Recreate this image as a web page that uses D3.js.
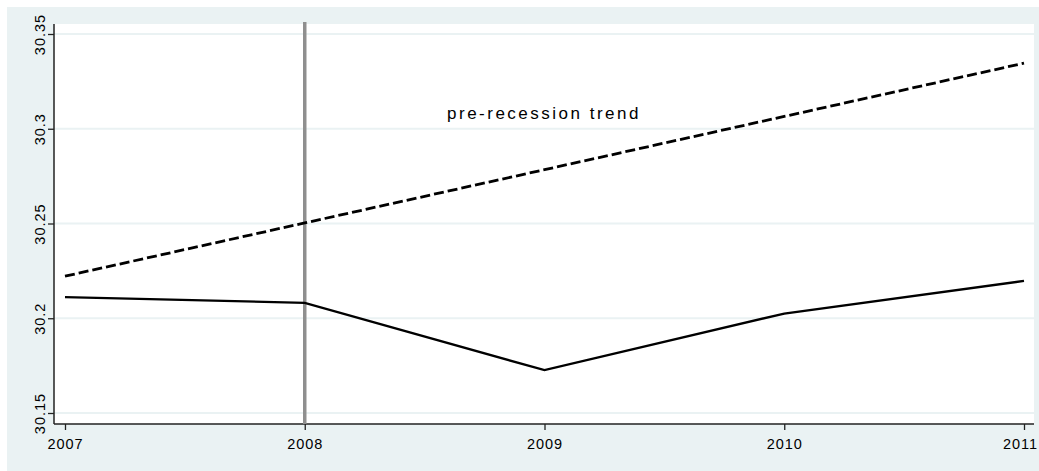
<!DOCTYPE html>
<html>
<head>
<meta charset="utf-8">
<script src="https://cdn.jsdelivr.net/npm/d3@7"></script>
<style>
  body { margin: 0; background: #fff; }
  text { font-family: "Liberation Sans", Arial, sans-serif; fill: #000; }
</style>
</head>
<body>
<div id="chart"></div>
<script>

// years on the x axis
var years = [2007, 2008, 2009, 2010, 2011];
// actual series (solid)
var actual = [30.2112, 30.2081, 30.1726, 30.2025, 30.2197];
// pre-recession trend (dashed)
var trend = [30.2222, 30.2503, 30.2784, 30.3065, 30.3346];
var yTicks = [30.15, 30.2, 30.25, 30.3, 30.35];
var recessionYear = 2008;
var trendLabel = "pre-recession trend";

var W = 1039, H = 471;
var plot = {left: 54, right: 1034, top: 24, bottom: 424};

var svg = d3.select("#chart")
  .append("svg")
    .attr("width", W)
    .attr("height", H);

// graph region
svg.append("rect")
  .attr("x", 7).attr("y", 7)
  .attr("width", W - 7).attr("height", H - 7)
  .attr("fill", "#eaf2f3");

// plot region
svg.append("rect")
  .attr("x", plot.left).attr("y", plot.top)
  .attr("width", plot.right - plot.left)
  .attr("height", plot.bottom - plot.top)
  .attr("fill", "#fff");

var x = d3.scaleLinear()
  .domain([2007, 2011])
  .range([65, 1024]);

var y = d3.scaleLinear()
  .domain([30.15, 30.35])
  .range([413, 34]);

// grid lines
svg.append("g")
  .selectAll("line")
  .data(yTicks)
  .join("line")
    .attr("x1", plot.left)
    .attr("x2", plot.right)
    .attr("y1", d => y(d))
    .attr("y2", d => y(d))
    .attr("stroke", "#eaf2f3")
    .attr("stroke-width", 2);

// y axis
var yAxis = d3.axisLeft(y)
  .tickValues(yTicks)
  .tickSize(6)
  .tickFormat(d => String(+d.toFixed(2)));

var gy = svg.append("g")
  .attr("transform", "translate(" + plot.left + ",0)")
  .call(yAxis);
gy.select(".domain").remove();
gy.selectAll(".tick line").attr("stroke", "#222").attr("stroke-width", 1.3);
gy.selectAll(".tick text")
  .attr("x", 0).attr("y", 0).attr("dy", 0)
  .attr("transform", "translate(-9,0) rotate(-90)")
  .attr("text-anchor", "middle")
  .style("font-size", "14.5px")
  .style("letter-spacing", "1px")
  .style("font-family", "'Liberation Sans', Arial, sans-serif");

// x axis
var xAxis = d3.axisBottom(x)
  .tickValues(years)
  .tickSize(6)
  .tickFormat(d3.format("d"));

var gx = svg.append("g")
  .attr("transform", "translate(0," + plot.bottom + ")")
  .call(xAxis);
gx.select(".domain").remove();
gx.selectAll(".tick line").attr("stroke", "#222").attr("stroke-width", 1.3);
gx.selectAll(".tick text")
  .attr("y", 25).attr("dy", 0)
  .attr("dx", (d, i) => i == years.length - 1 ? -4 : 0)
  .style("font-size", "14.5px")
  .style("letter-spacing", "1px")
  .style("font-family", "'Liberation Sans', Arial, sans-serif");

// axis lines
svg.append("line")
  .attr("x1", plot.left).attr("x2", plot.left)
  .attr("y1", plot.top).attr("y2", plot.bottom)
  .attr("stroke", "#222").attr("stroke-width", 1.5);
svg.append("line")
  .attr("x1", plot.left).attr("x2", plot.right)
  .attr("y1", plot.bottom).attr("y2", plot.bottom)
  .attr("stroke", "#222").attr("stroke-width", 1.5);

// recession marker
svg.append("line")
  .attr("x1", x(recessionYear)).attr("x2", x(recessionYear))
  .attr("y1", plot.top - 2).attr("y2", plot.bottom)
  .attr("stroke", "#8f8f8f")
  .attr("stroke-width", 3.5);

var line = d3.line()
  .x((d, i) => x(years[i]))
  .y(d => y(d));

svg.append("path")
  .datum(trend)
  .attr("d", line)
  .attr("fill", "none")
  .attr("stroke", "#000")
  .attr("stroke-width", 2.8)
  .style("stroke-dasharray", "10, 4");

svg.append("path")
  .datum(actual)
  .attr("d", line)
  .attr("fill", "none")
  .attr("stroke", "#000")
  .attr("stroke-width", 2.3);

svg.append("text")
  .text(trendLabel)
  .attr("x", 544)
  .attr("y", 119)
  .attr("text-anchor", "middle")
  .style("font-size", "17px")
  .style("letter-spacing", "2.5px");

</script>
</body>
</html>
